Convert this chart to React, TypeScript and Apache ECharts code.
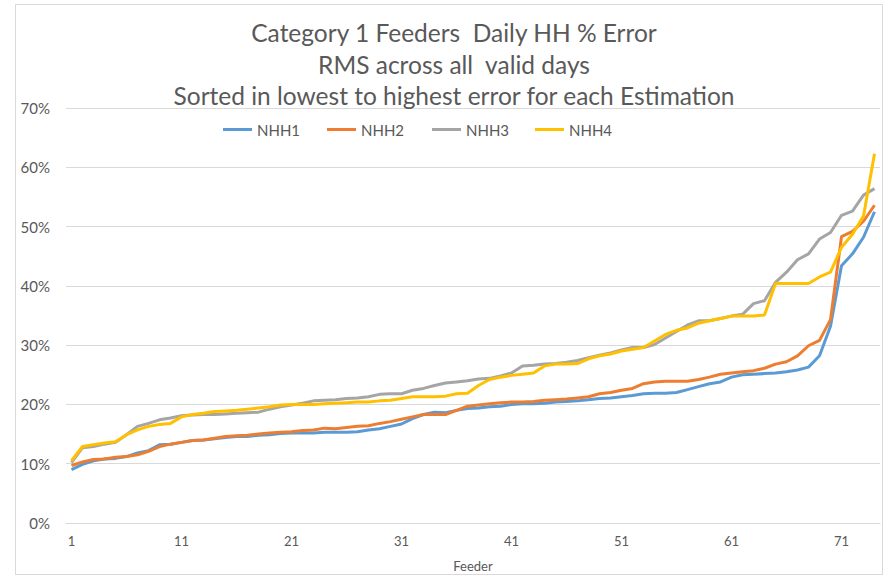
import React, { useEffect, useRef } from "react";
import * as echarts from "echarts";

const feeders = [
  "1", "2", "3", "4", "5", "6", "7", "8", "9", "10",
  "11", "12", "13", "14", "15", "16", "17", "18", "19", "20",
  "21", "22", "23", "24", "25", "26", "27", "28", "29", "30",
  "31", "32", "33", "34", "35", "36", "37", "38", "39", "40",
  "41", "42", "43", "44", "45", "46", "47", "48", "49", "50",
  "51", "52", "53", "54", "55", "56", "57", "58", "59", "60",
  "61", "62", "63", "64", "65", "66", "67", "68", "69", "70",
  "71", "72", "73", "74",
];

const seriesNames = ["NHH1", "NHH2", "NHH3", "NHH4"];

const nhh1 = [
  9.0, 9.9, 10.5, 10.8, 10.9, 11.2, 11.8, 12.2, 13.2, 13.3,
  13.6, 13.9, 14.0, 14.2, 14.4, 14.6, 14.6, 14.8, 14.9, 15.1,
  15.2, 15.2, 15.2, 15.3, 15.3, 15.3, 15.4, 15.7, 15.9, 16.3,
  16.7, 17.6, 18.3, 18.7, 18.6, 19.0, 19.3, 19.4, 19.6, 19.7,
  20.0, 20.1, 20.1, 20.2, 20.4, 20.5, 20.6, 20.8, 21.0, 21.1,
  21.3, 21.5, 21.8, 21.9, 21.9, 22.0, 22.5, 23.0, 23.5, 23.8,
  24.6, 25.0, 25.1, 25.2, 25.3, 25.5, 25.8, 26.3, 28.2, 33.2,
  43.4, 45.4, 48.2, 52.5,
];

const nhh2 = [
  9.7, 10.3, 10.7, 10.8, 11.1, 11.2, 11.5, 12.1, 12.9, 13.3,
  13.6, 13.9, 14.0, 14.3, 14.6, 14.7, 14.8, 15.0, 15.2, 15.3,
  15.4, 15.6, 15.7, 16.0, 15.9, 16.1, 16.3, 16.4, 16.8, 17.1,
  17.5, 17.9, 18.3, 18.3, 18.3, 19.0, 19.7, 19.9, 20.1, 20.3,
  20.4, 20.4, 20.5, 20.7, 20.8, 20.9, 21.1, 21.3, 21.8, 22.0,
  22.4, 22.7, 23.5, 23.8, 23.9, 23.9, 23.9, 24.2, 24.6, 25.1,
  25.3, 25.5, 25.7, 26.1, 26.8, 27.2, 28.2, 29.9, 30.8, 34.3,
  48.3, 49.2, 50.9, 53.6,
];

const nhh3 = [
  10.2, 12.7, 12.9, 13.3, 13.6, 14.9, 16.3, 16.8, 17.4, 17.7,
  18.1, 18.2, 18.3, 18.3, 18.4, 18.5, 18.6, 18.7, 19.2, 19.6,
  19.9, 20.2, 20.6, 20.7, 20.8, 21.0, 21.1, 21.3, 21.7, 21.8,
  21.8, 22.4, 22.7, 23.2, 23.6, 23.8, 24.0, 24.3, 24.4, 24.8,
  25.3, 26.5, 26.6, 26.8, 26.9, 27.1, 27.4, 27.9, 28.3, 28.7,
  29.2, 29.6, 29.6, 30.1, 31.2, 32.3, 33.4, 34.1, 34.1, 34.5,
  34.9, 35.2, 37.0, 37.5, 40.6, 42.3, 44.4, 45.4, 47.9, 49.0,
  51.9, 52.6, 55.3, 56.4,
];

const nhh4 = [
  10.5, 12.9, 13.2, 13.5, 13.7, 14.9, 15.7, 16.3, 16.6, 16.8,
  17.9, 18.3, 18.5, 18.8, 18.9, 19.0, 19.2, 19.4, 19.6, 19.9,
  20.0, 20.0, 20.0, 20.1, 20.2, 20.3, 20.4, 20.4, 20.6, 20.7,
  21.0, 21.3, 21.3, 21.3, 21.4, 21.8, 21.9, 23.2, 24.2, 24.6,
  24.9, 25.1, 25.3, 26.5, 26.8, 26.8, 26.9, 27.7, 28.2, 28.5,
  29.0, 29.3, 29.6, 30.7, 31.8, 32.5, 32.9, 33.7, 34.1, 34.5,
  34.9, 34.9, 34.9, 35.1, 40.4, 40.4, 40.4, 40.4, 41.5, 42.3,
  46.5, 48.7, 51.8, 62.3,
];

const titleLines = [
  "Category 1 Feeders  Daily HH % Error",
  "RMS across all  valid days",
  "Sorted in lowest to highest error for each Estimation",
];

const xAxisName = "Feeder";

const colors = ["#5B9BD5", "#ED7D31", "#A5A5A5", "#FFC000"];
const legendLefts = [223, 327, 432, 535];
const FONT = "Lato, 'Open Sans', sans-serif";
const TEXT = "#595959";
const GRIDC = "#D9D9D9";

export default function App() {
  const ref = useRef<HTMLDivElement>(null);

  useEffect(() => {
    document.body.style.margin = "0";
    if (!ref.current) return;
    const chart = echarts.init(ref.current, undefined, { renderer: "svg" });
    const values = [nhh1, nhh2, nhh3, nhh4];
    chart.setOption({
      animation: false,
      backgroundColor: "#ffffff",
      textStyle: { fontFamily: FONT },
      title: {
        text: titleLines.join("\n"),
        left: 454,
        top: 17,
        padding: 0,
        textAlign: "center",
        textStyle: {
          fontFamily: FONT,
          fontSize: 24.5,
          fontWeight: "normal",
          color: TEXT,
          lineHeight: 31.5,
        },
      },
      legend: seriesNames.map((n, i) => ({
        data: [n],
        left: legendLefts[i],
        top: 122,
        padding: 0,
        icon: "rect",
        itemWidth: 29,
        itemHeight: 3,
        textStyle: { fontFamily: FONT, fontSize: 15, color: TEXT },
      })),
      grid: { left: 66, right: 15, top: 108, bottom: 47, containLabel: false },
      xAxis: {
        type: "category",
        data: feeders,
        boundaryGap: true,
        name: xAxisName,
        nameLocation: "middle",
        nameGap: 36,
        nameTextStyle: { fontFamily: FONT, fontSize: 13, color: TEXT },
        axisLine: { show: true, lineStyle: { color: GRIDC, width: 1 } },
        axisTick: { show: false },
        axisLabel: {
          interval: 9,
          color: TEXT,
          fontFamily: FONT,
          fontSize: 13,
          margin: 11,
        },
        splitLine: { show: false },
      },
      yAxis: {
        type: "value",
        min: 0,
        max: 70,
        interval: 10,
        axisLine: { show: false },
        axisTick: { show: false },
        axisLabel: {
          formatter: "{value}%",
          color: TEXT,
          fontFamily: FONT,
          fontSize: 15,
          margin: 16,
        },
        splitLine: { lineStyle: { color: GRIDC, width: 1 } },
      },
      series: seriesNames.map((n, i) => ({
        name: n,
        type: "line",
        data: values[i],
        symbol: "none",
        color: colors[i],
        lineStyle: { color: colors[i], width: 3 },
        itemStyle: { color: colors[i] },
      })),
      graphic: [
        {
          type: "rect",
          shape: { x: 15.5, y: 4.5, width: 867, height: 570 },
          style: { fill: "none", stroke: GRIDC, lineWidth: 1 },
          silent: true,
        },
      ],
    });
    return () => chart.dispose();
  }, []);

  return <div ref={ref} style={{ width: 895, height: 577 }} />;
}
